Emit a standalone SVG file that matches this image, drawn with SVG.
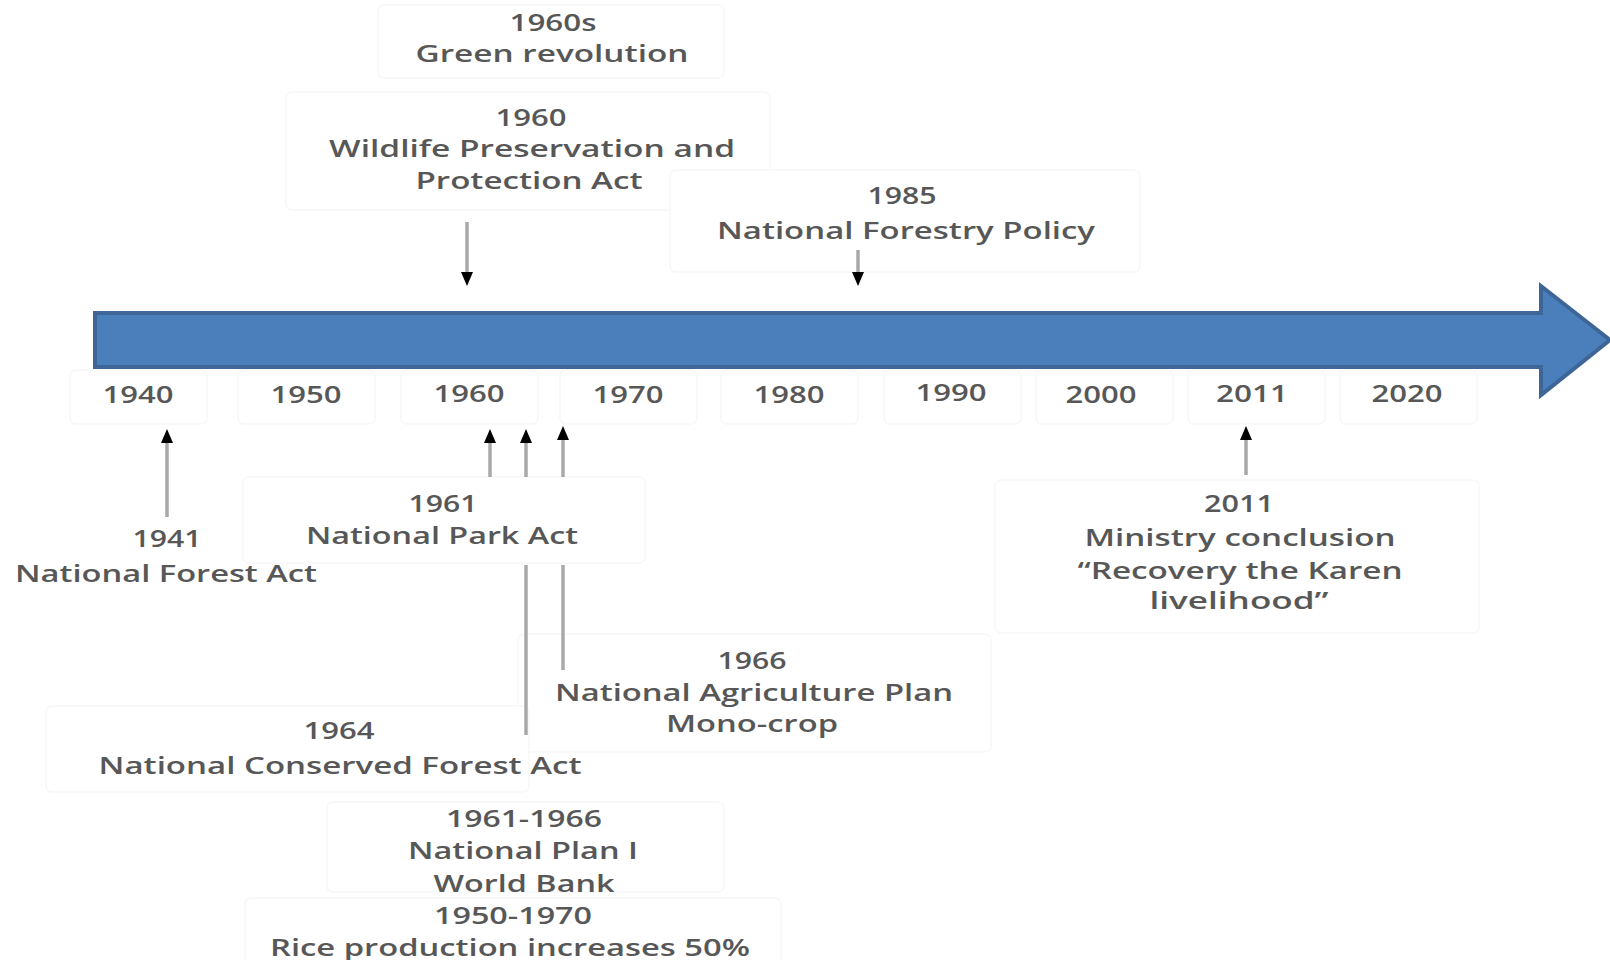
<svg xmlns="http://www.w3.org/2000/svg" width="1610" height="960" viewBox="0 0 1610 960">
  <style>
    .t { font-family: "Open Sans", "Liberation Sans", sans-serif; font-size: 23px; font-weight: 600; fill: #575757; text-anchor: middle; dominant-baseline: central; }
    .box { fill: #ffffff; stroke: #f7f7f7; stroke-width: 1.5; }
    .ln { stroke: #a8a8a8; stroke-width: 3.5; fill: none; }
  </style>
  <defs>
    <marker id="ah" viewBox="0 0 14 14" refX="7" refY="7" markerWidth="14" markerHeight="14" markerUnits="userSpaceOnUse" orient="auto">
      <path d="M0,1 L14,7 L0,13 Z" fill="#000000"/>
    </marker>
  </defs>

  <g id="timeline">
    <path d="M95,313 H1541 V286 L1610,340 L1541,395 V367 H95 Z" fill="#4b7fbc" stroke="#3d6697" stroke-width="4" stroke-linejoin="miter"/>
  </g>

  <g id="years">
    <rect class="box" x="70" y="370" width="137" height="54" rx="6"/>
    <rect class="box" x="238" y="370" width="137" height="54" rx="6"/>
    <rect class="box" x="401" y="370" width="137" height="54" rx="6"/>
    <rect class="box" x="560" y="370" width="137" height="54" rx="6"/>
    <rect class="box" x="721" y="370" width="137" height="54" rx="6"/>
    <rect class="box" x="884" y="370" width="137" height="54" rx="6"/>
    <rect class="box" x="1036" y="370" width="137" height="54" rx="6"/>
    <rect class="box" x="1188" y="370" width="137" height="54" rx="6"/>
    <rect class="box" x="1340" y="370" width="137" height="54" rx="6"/>
    <text class="t" x="138" y="394" textLength="71" lengthAdjust="spacingAndGlyphs">1940</text>
    <text class="t" x="306" y="394" textLength="71" lengthAdjust="spacingAndGlyphs">1950</text>
    <text class="t" x="469" y="393" textLength="71" lengthAdjust="spacingAndGlyphs">1960</text>
    <text class="t" x="628" y="394" textLength="71" lengthAdjust="spacingAndGlyphs">1970</text>
    <text class="t" x="789" y="394" textLength="71" lengthAdjust="spacingAndGlyphs">1980</text>
    <text class="t" x="951" y="392" textLength="71" lengthAdjust="spacingAndGlyphs">1990</text>
    <text class="t" x="1101" y="394" textLength="71" lengthAdjust="spacingAndGlyphs">2000</text>
    <text class="t" x="1252" y="393" textLength="72" lengthAdjust="spacingAndGlyphs">2011</text>
    <text class="t" x="1407" y="393" textLength="71" lengthAdjust="spacingAndGlyphs">2020</text>
  </g>

  <g id="node-1960s">
    <rect class="box" x="378" y="5" width="346" height="73" rx="6"/>
    <text class="t" x="553" y="22" textLength="87" lengthAdjust="spacingAndGlyphs">1960s</text>
    <text class="t" x="552" y="53" textLength="273" lengthAdjust="spacingAndGlyphs">Green revolution</text>
  </g>

  <g id="node-1960">
    <rect class="box" x="286" y="92" width="484" height="118" rx="6"/>
    <text class="t" x="531" y="117" textLength="71" lengthAdjust="spacingAndGlyphs">1960</text>
    <text class="t" x="532" y="148" textLength="406" lengthAdjust="spacingAndGlyphs">Wildlife Preservation and</text>
    <text class="t" x="529" y="180" textLength="227" lengthAdjust="spacingAndGlyphs">Protection Act</text>
  </g>

  <g id="node-1985">
    <rect class="box" x="670" y="170" width="470" height="102" rx="6"/>
    <text class="t" x="902" y="195" textLength="69" lengthAdjust="spacingAndGlyphs">1985</text>
    <text class="t" x="906" y="230" textLength="378" lengthAdjust="spacingAndGlyphs">National Forestry Policy</text>
  </g>

  <g id="node-1941">
    <text class="t" x="167" y="538" textLength="69" lengthAdjust="spacingAndGlyphs">1941</text>
    <text class="t" x="166" y="573" textLength="302" lengthAdjust="spacingAndGlyphs">National Forest Act</text>
  </g>

  <g id="node-1966">
    <rect class="box" x="518" y="634" width="473" height="118" rx="6"/>
    <text class="t" x="752" y="660" textLength="69" lengthAdjust="spacingAndGlyphs">1966</text>
    <text class="t" x="754" y="692" textLength="398" lengthAdjust="spacingAndGlyphs">National Agriculture Plan</text>
    <text class="t" x="752" y="723" textLength="172" lengthAdjust="spacingAndGlyphs">Mono-crop</text>
  </g>

  <g id="node-1964">
    <rect class="box" x="46" y="706" width="483" height="86" rx="6"/>
    <text class="t" x="339" y="730" textLength="71" lengthAdjust="spacingAndGlyphs">1964</text>
    <text class="t" x="340" y="765" textLength="483" lengthAdjust="spacingAndGlyphs">National Conserved Forest Act</text>
  </g>

  <g id="node-1950-1970">
    <rect class="box" x="245" y="898" width="536" height="74" rx="6"/>
    <text class="t" x="513" y="915" textLength="158" lengthAdjust="spacingAndGlyphs">1950-1970</text>
    <text class="t" x="510" y="947" textLength="480" lengthAdjust="spacingAndGlyphs">Rice production increases 50%</text>
  </g>

  <g id="node-1961-1966">
    <rect class="box" x="327" y="802" width="397" height="90" rx="6" fill="none"/>
    <text class="t" x="524" y="818" textLength="156" lengthAdjust="spacingAndGlyphs">1961-1966</text>
    <text class="t" x="523" y="850" textLength="230" lengthAdjust="spacingAndGlyphs">National Plan I</text>
    <text class="t" x="524" y="883" textLength="181" lengthAdjust="spacingAndGlyphs">World Bank</text>
  </g>

  <g id="node-2011">
    <rect class="box" x="995" y="480" width="484" height="153" rx="6"/>
    <text class="t" x="1239" y="503" textLength="70" lengthAdjust="spacingAndGlyphs">2011</text>
    <text class="t" x="1240" y="537" textLength="311" lengthAdjust="spacingAndGlyphs">Ministry conclusion</text>
    <text class="t" x="1240" y="570" textLength="325" lengthAdjust="spacingAndGlyphs">“Recovery the Karen</text>
    <text class="t" x="1239" y="600" textLength="179" lengthAdjust="spacingAndGlyphs">livelihood”</text>
  </g>

  <g id="node-1961">
    <rect class="box" x="243" y="477" width="402" height="86" rx="6"/>
    <text class="t" x="443" y="503" textLength="69" lengthAdjust="spacingAndGlyphs">1961</text>
    <text class="t" x="442" y="535" textLength="272" lengthAdjust="spacingAndGlyphs">National Park Act</text>
  </g>

  <g id="connectors">
    <line class="ln" x1="467" y1="222" x2="467" y2="279" marker-end="url(#ah)"/>
    <line class="ln" x1="858" y1="250" x2="858" y2="279" marker-end="url(#ah)"/>
    <line class="ln" x1="167" y1="517" x2="167" y2="436" marker-end="url(#ah)"/>
    <line class="ln" x1="490" y1="477" x2="490" y2="436" marker-end="url(#ah)"/>
    <line class="ln" x1="526" y1="477" x2="526" y2="436" marker-end="url(#ah)"/>
    <line class="ln" x1="563" y1="477" x2="563" y2="433" marker-end="url(#ah)"/>
    <line class="ln" x1="526" y1="565" x2="526" y2="735"/>
    <line class="ln" x1="563" y1="565" x2="563" y2="670"/>
    <line class="ln" x1="1246" y1="475" x2="1246" y2="433" marker-end="url(#ah)"/>
  </g>
</svg>
